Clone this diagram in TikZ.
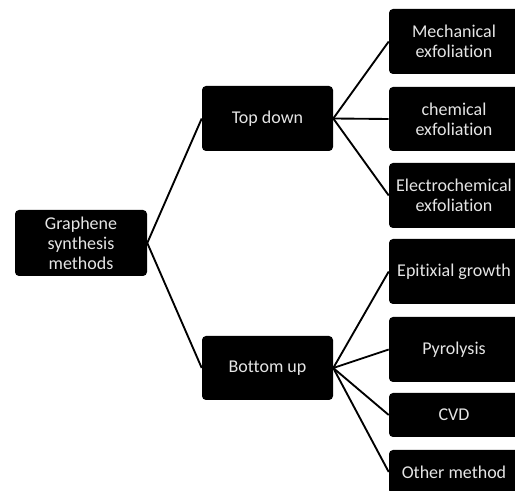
\documentclass[tikz,border=0pt]{standalone}
\usepackage{fontspec}
\setmainfont[Ligatures=NoCommon]{Carlito}
\begin{document}
\begin{tikzpicture}[x=0.75pt,y=-0.75pt,
  box/.style={fill=black,draw=none,rounded corners=3pt,text=white!90!black,
    align=center,inner sep=0pt,font=\fontsize{13.5}{15}\selectfont,
    minimum width=0.75pt*130},
  conn/.style={line width=1.4pt,black}]
\useasboundingbox (0,0) rectangle (515,491);
\clip (0,0) rectangle (515,491);
\node[box,minimum width=0.75pt*132,minimum height=0.75pt*66] (root) at (81,243) {Graphene\\synthesis\\methods};
\node[box,minimum width=0.75pt*131,minimum height=0.75pt*65] (td) at (267.5,118.5) {Top down};
\node[box,minimum width=0.75pt*131,minimum height=0.75pt*64] (bu) at (267.5,368) {Bottom up};
\node[box,minimum height=0.75pt*65] (m1) at (454,41.5) {Mechanical\\exfoliation};
\node[box,minimum height=0.75pt*64] (m2) at (454,119) {chemical\\exfoliation};
\node[box,minimum height=0.75pt*65] (m3) at (454,195.5) {Electrochemical\\exfoliation};
\node[box,minimum height=0.75pt*65] (b1) at (454,271.5) {Epitixial growth};
\node[box,minimum height=0.75pt*65] (b2) at (454,349.5) {Pyrolysis};
\node[box,minimum height=0.75pt*44] (b3) at (454,415) {CVD};
\node[box,minimum height=0.75pt*44] (b4) at (454,472) {Other method};
\draw[conn] (root.east) -- (td.west);
\draw[conn] (root.east) -- (bu.west);
\foreach \n in {m1,m2,m3} \draw[conn] (td.east) -- (\n.west);
\foreach \n in {b1,b2,b3,b4} \draw[conn] (bu.east) -- (\n.west);
\end{tikzpicture}
\end{document}
